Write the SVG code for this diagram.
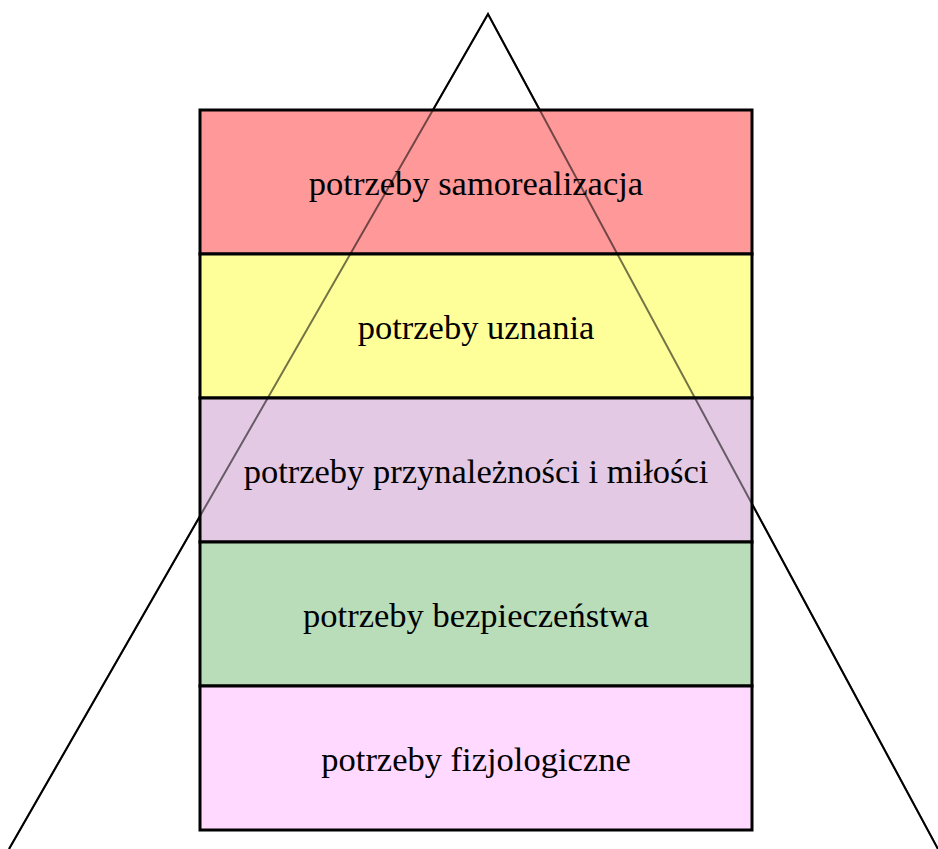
<svg xmlns="http://www.w3.org/2000/svg" width="938" height="849" viewBox="0 0 938 849">
<style>
.band{stroke:#000;stroke-width:3}
.lbl{font-family:"Liberation Serif","Times New Roman",serif;font-size:34.5px;fill:#000;text-anchor:middle}
.edge{fill:none;stroke:#000;stroke-width:2}
</style>
<rect width="938" height="849" fill="#fff"/>
<g id="connectors-under">
<polyline class="edge" points="9,849 488,14 938,849"/>
</g>
<g id="n1"><rect class="band" x="200" y="110" width="552" height="144" fill="#FF9999"/><text class="lbl" x="476" y="195">potrzeby samorealizacja</text></g>
<g id="n2"><rect class="band" x="200" y="254" width="552" height="144" fill="#FFFF99"/><text class="lbl" x="476" y="339">potrzeby uznania</text></g>
<g id="n3"><rect class="band" x="200" y="398" width="552" height="144" fill="#E3C9E3"/><text class="lbl" x="476" y="483">potrzeby przynależności i miłości</text></g>
<g id="n4"><rect class="band" x="200" y="542" width="552" height="144" fill="#B9DCB9"/><text class="lbl" x="476" y="627">potrzeby bezpieczeństwa</text></g>
<g id="n5"><rect class="band" x="200" y="686" width="552" height="144" fill="#FFD9FF"/><text class="lbl" x="476" y="771">potrzeby fizjologiczne</text></g>
<g id="connectors">
<polyline class="edge" points="9,849 488,14 938,849" stroke-opacity="0.55"/>
</g>
</svg>
